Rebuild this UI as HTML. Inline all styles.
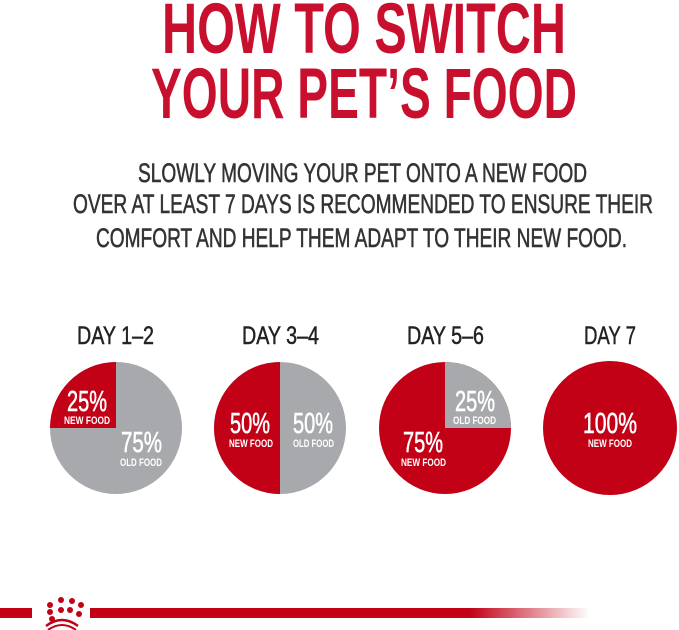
<!DOCTYPE html>
<html><head><meta charset="utf-8"><style>
body{margin:0;width:679px;height:630px;background:#fff;overflow:hidden}
svg{position:absolute;left:0;top:0}
</style></head><body>
<svg width="679" height="630" font-family="Liberation Sans, sans-serif">
<defs><linearGradient id="g" x1="0" x2="1"><stop offset="0" stop-color="#c20016"/><stop offset="1" stop-color="#c20016" stop-opacity="0"/></linearGradient></defs>
<g fill="#c8102e" font-weight="bold" font-size="71">
<text x="162" y="53" textLength="404" lengthAdjust="spacingAndGlyphs">HOW TO SWITCH</text>
<text x="151" y="118" textLength="426" lengthAdjust="spacingAndGlyphs">YOUR PET’S FOOD</text>
</g>
<g fill="#333" stroke="#333" stroke-width="0.6" font-size="27">
<text x="138" y="182" textLength="449" lengthAdjust="spacingAndGlyphs">SLOWLY MOVING YOUR PET ONTO A NEW FOOD</text>
<text x="73" y="213" textLength="580" lengthAdjust="spacingAndGlyphs">OVER AT LEAST 7 DAYS IS RECOMMENDED TO ENSURE THEIR</text>
<text x="96" y="247" textLength="531" lengthAdjust="spacingAndGlyphs">COMFORT AND HELP THEM ADAPT TO THEIR NEW FOOD.</text>
</g>
<g fill="#222" stroke="#222" stroke-width="0.5" font-size="25">
<text x="77" y="344" textLength="77" lengthAdjust="spacingAndGlyphs">DAY 1–2</text>
<text x="242" y="344" textLength="77" lengthAdjust="spacingAndGlyphs">DAY 3–4</text>
<text x="407" y="344" textLength="77" lengthAdjust="spacingAndGlyphs">DAY 5–6</text>
<text x="584" y="344" textLength="52" lengthAdjust="spacingAndGlyphs">DAY 7</text>
</g>
<circle cx="116" cy="428" r="66" fill="#a7a9ac"/>
<path d="M116 428 L50 428 A66 66 0 0 1 116 362 Z" fill="#c20016"/>
<circle cx="280" cy="428" r="66" fill="#a7a9ac"/>
<path d="M280 362 A66 66 0 0 0 280 494 Z" fill="#c20016"/>
<circle cx="445" cy="428" r="66" fill="#c20016"/>
<path d="M445 428 L445 362 A66 66 0 0 1 511 428 Z" fill="#a7a9ac"/>
<circle cx="610" cy="428" r="67" fill="#c20016"/>
<g fill="#fff">
<g stroke="#fff" stroke-width="0.6">
<text x="67" y="411" font-size="29" textLength="40" lengthAdjust="spacingAndGlyphs">25%</text>
<text x="121" y="452" font-size="29" textLength="41" lengthAdjust="spacingAndGlyphs">75%</text>
<text x="230" y="433" font-size="29" textLength="40" lengthAdjust="spacingAndGlyphs">50%</text>
<text x="293" y="433" font-size="29" textLength="40" lengthAdjust="spacingAndGlyphs">50%</text>
<text x="455" y="411" font-size="29" textLength="40" lengthAdjust="spacingAndGlyphs">25%</text>
<text x="403" y="452" font-size="29" textLength="40" lengthAdjust="spacingAndGlyphs">75%</text>
<text x="583" y="433" font-size="29" textLength="54" lengthAdjust="spacingAndGlyphs">100%</text>
</g>
<g font-weight="bold">
<text x="64" y="424" font-size="11" textLength="46" lengthAdjust="spacingAndGlyphs">NEW FOOD</text>
<text x="120" y="466" font-size="11" textLength="42" lengthAdjust="spacingAndGlyphs">OLD FOOD</text>
<text x="229" y="447" font-size="11" textLength="44" lengthAdjust="spacingAndGlyphs">NEW FOOD</text>
<text x="293" y="447" font-size="11" textLength="41" lengthAdjust="spacingAndGlyphs">OLD FOOD</text>
<text x="453" y="424" font-size="11" textLength="43" lengthAdjust="spacingAndGlyphs">OLD FOOD</text>
<text x="401" y="466" font-size="11" textLength="45" lengthAdjust="spacingAndGlyphs">NEW FOOD</text>
<text x="588" y="447" font-size="11" textLength="44" lengthAdjust="spacingAndGlyphs">NEW FOOD</text>
</g>
</g>
<rect x="0" y="608" width="32" height="10" fill="#c20016"/>
<rect x="90" y="608" width="380" height="10" fill="#c20016"/>
<rect x="470" y="608" width="120" height="10" fill="url(#g)"/>
<g fill="#c20016"><circle cx="50" cy="605" r="3"/><circle cx="61" cy="600" r="3"/><circle cx="72" cy="601" r="3"/><circle cx="81" cy="605" r="3"/><circle cx="50" cy="612" r="3"/><circle cx="61" cy="610" r="3"/><circle cx="70" cy="610" r="3"/><circle cx="79" cy="614" r="3"/><circle cx="52" cy="619" r="3"/></g>
<path d="M46 626 Q62 614 78 626" stroke="#c20016" stroke-width="2.5" fill="none"/>
<path d="M48 630 Q62 620 76 630" stroke="#c20016" stroke-width="2" fill="none"/>
</svg>
</body></html>
